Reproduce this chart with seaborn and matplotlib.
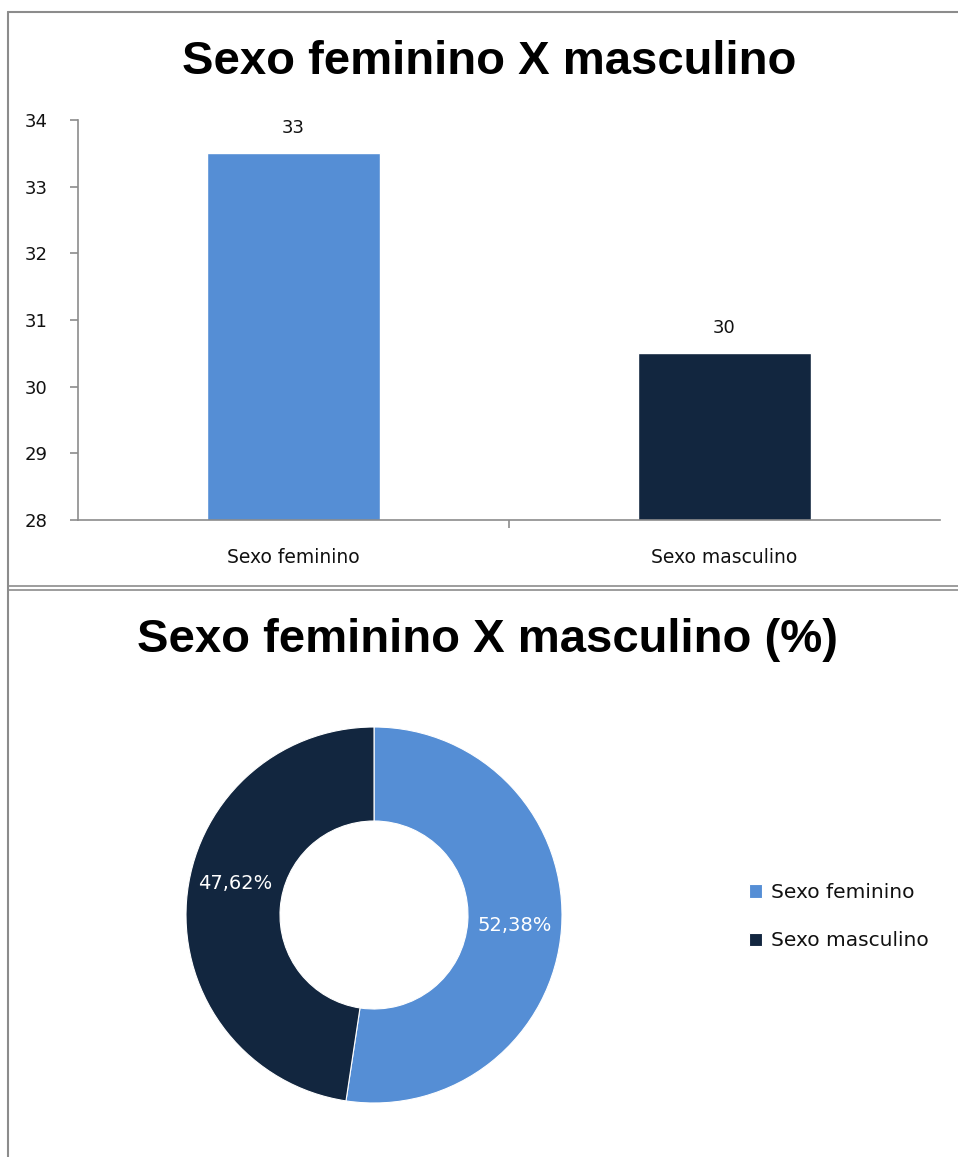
import matplotlib
matplotlib.use("Agg")
import matplotlib.pyplot as plt
import seaborn as sns
import numpy as np
from matplotlib.lines import Line2D

categories = ["Sexo feminino", "Sexo masculino"]
values = [33, 30]
pct_labels = ["52,38%", "47,62%"]
ytick_labels = ["28", "29", "30", "31", "32", "33", "34"]
colors = ["#558ed5", "#12263f"]
title_bar = "Sexo feminino X masculino"
title_pie = "Sexo feminino X masculino (%)"

sns.set_theme(style="white")
plt.rcParams['font.family'] = ['DejaVu Sans']
plt.rcParams['text.color'] = "#111111"
plt.rcParams['xtick.color'] = "#111111"
plt.rcParams['ytick.color'] = "#111111"

W, H = 958, 1157
fig = plt.figure(figsize=(W / 100, H / 100), dpi=100)
fig.patch.set_facecolor("white")

def px(x0, y0, x1, y1):
    return [x0 / W, 1 - y1 / H, (x1 - x0) / W, (y1 - y0) / H]

# frame lines
gray = "#8c8c8c"
fig.add_artist(Line2D([8 / W, 1], [1 - 12 / H, 1 - 12 / H], color=gray, lw=1.5))
fig.add_artist(Line2D([8 / W, 8 / W], [0, 1 - 12 / H], color=gray, lw=1.5))
fig.add_artist(Line2D([8 / W, 1], [1 - 586 / H, 1 - 586 / H], color=gray, lw=1.2))
fig.add_artist(Line2D([8 / W, 1], [1 - 590 / H, 1 - 590 / H], color=gray, lw=1.2))

# ---- bar chart ----
ax = fig.add_axes(px(78, 120, 940, 520))
sns.barplot(x=categories, y=values, hue=categories, palette=colors, width=0.4,
            legend=False, ax=ax, saturation=1)
ax.set_xlim(-0.5, 1.5)
ax.set_ylim(27.5, 33.5)
ax.set_yticks(np.arange(27.5, 34.0, 1.0))
ax.set_yticklabels(ytick_labels, fontsize=13)
ax.tick_params(axis="y", which="major", left=True, length=6, color=gray, width=1.2, pad=16,
               labelcolor="#111111")
ax.set_xticks([0, 1])
ax.set_xticklabels(categories, fontsize=13.5)
ax.tick_params(axis="x", which="major", length=0, pad=20, labelcolor="#111111")
ax.set_xticks([0.5], minor=True)
ax.tick_params(axis="x", which="minor", bottom=True, length=6, color=gray, width=1.2)
for s in ["top", "right"]:
    ax.spines[s].set_visible(False)
for s in ["left", "bottom"]:
    ax.spines[s].set_color(gray)
    ax.spines[s].set_linewidth(1.2)
ax.set_xlabel("")
ax.set_ylabel("")
for i, c in enumerate(ax.containers):
    ax.bar_label(c, labels=[str(values[i])], padding=12, fontsize=13, color="#111111")
fig.text(489 / W, 1 - 62 / H, title_bar, ha="center", va="center", color="black",
         fontsize=34, fontweight="bold", family="Liberation Sans")

# ---- donut chart ----
ax2 = fig.add_axes(px(186, 727, 562, 1103))
wedges, texts, autotexts = ax2.pie(values, colors=colors, startangle=90, counterclock=False,
                                   radius=1, wedgeprops=dict(width=0.5, edgecolor="white", linewidth=0.8),
                                   autopct=lambda p: "", pctdistance=0.75)
for t, lab in zip(autotexts, pct_labels):
    t.set_text(lab)
    t.set_color("white")
    t.set_fontsize(14)
autotexts[1].set_position((-0.74, 0.17))
ax2.set_xlim(-1, 1)
ax2.set_ylim(-1, 1)
ax2.set_aspect("equal")
ax2.axis("off")
fig.text(487 / W, 1 - 640 / H, title_pie, ha="center", va="center", color="black",
         fontsize=34, fontweight="bold", family="Liberation Sans")

fig.legend(wedges, categories, loc="upper left", bbox_to_anchor=(731 / W, 1 - 865 / H),
           frameon=False, fontsize=14.5, handlelength=0.65, handleheight=0.65,
           handletextpad=0.45, labelspacing=1.45)

fig.savefig("out.png", dpi=100)
